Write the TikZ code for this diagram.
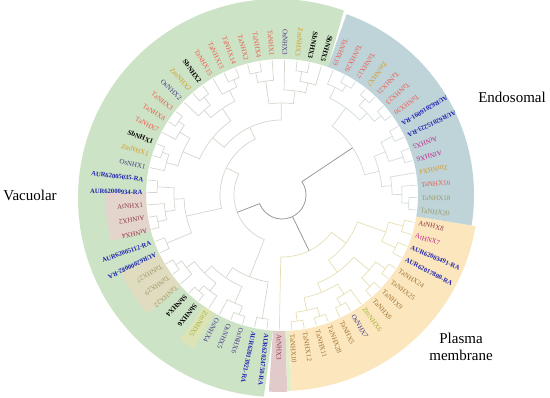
\documentclass[tikz,border=0pt]{standalone}
\usepackage{fontspec}
\setmainfont{Liberation Serif}
\definecolor{tared}{HTML}{EE5B4F}
\definecolor{tabrown}{HTML}{9E7437}
\definecolor{taolive}{HTML}{9C9A66}
\definecolor{osnavy}{HTML}{463C86}
\definecolor{zmgold}{HTML}{D39A2B}
\definecolor{zmlime}{HTML}{A5B330}
\definecolor{aurblue}{HTML}{1E22B0}
\definecolor{atred}{HTML}{8E3A48}
\definecolor{atmag}{HTML}{C2288E}
\definecolor{vacg}{HTML}{CDE3C5}
\definecolor{endb}{HTML}{BED4D9}
\definecolor{plaso}{HTML}{FCE6BD}
\definecolor{atpink}{HTML}{E3CACA}
\definecolor{strpink}{HTML}{E4D5CC}
\definecolor{strbeige}{HTML}{E0DCC0}
\definecolor{strlime}{HTML}{DCE3B6}
\definecolor{strlight}{HTML}{E2EDC9}
\definecolor{trg}{HTML}{D3D6CC}
\definecolor{tro}{HTML}{E6DFB4}
\definecolor{trb}{HTML}{D3DBDD}
\tikzset{
  lbl/.style={font=\fontsize{7}{8}\selectfont, inner sep=0.3pt},
  cTa/.style={text=tared}, cTab/.style={text=tabrown}, cTao/.style={text=taolive},
  cOs/.style={text=osnavy}, cZm/.style={text=zmgold}, cZmg/.style={text=zmlime},
  cSb/.style={text=black, font=\fontsize{7}{8}\selectfont\bfseries},
  cAur/.style={text=aurblue, font=\fontsize{6.6}{8}\selectfont\bfseries},
  cAt/.style={text=atred}, cAtm/.style={text=atmag},
  treeline/.style={draw=trg, line width=0.7pt},
  big/.style={font=\fontsize{15}{17}\selectfont, inner sep=0pt, align=center}
}
% sector: start angle, end angle, inner r, outer r, colour
\newcommand\sector[5]{\fill[#5] ([shift={(282,203)}]#1:#3) arc[start angle=#1,end angle=#2,radius=#3] -- ([shift={(282,203)}]#2:#4) arc[start angle=#2,end angle=#1,radius=#4] -- cycle;}
% tree node: radius, slot1, r1, slot2, r2
\newcommand\tn[5]{%
  \pgfmathsetmacro\tnA{73+5.294*#2}%
  \pgfmathsetmacro\tnB{73+5.294*#4}%
  \draw[treeline] ([shift={(282,203)}]\tnA:#3) -- ([shift={(282,203)}]\tnA:#1) arc[start angle=\tnA, end angle=\tnB, radius=#1] -- ([shift={(282,203)}]\tnB:#5);}
% label: slot, text, style, direction (0 outward, 1 inward)
\newcommand\lab[4]{%
  \pgfmathsetmacro\labA{73+5.294*#1}%
  \ifnum#4=0
    \node[lbl,#3,anchor=west,rotate=\labA] (L#1) at ([shift={(282,203)}]\labA:139) {#2};
  \else
    \pgfmathsetmacro\labB{\labA+180}%
    \node[lbl,#3,anchor=east,rotate=\labB] (L#1) at ([shift={(282,203)}]\labA:139) {#2};
  \fi}
\begin{document}
\begin{tikzpicture}[x=1pt,y=1pt]
\useasboundingbox (0,0) rectangle (550,398);
\clip (0,0) rectangle (550,398);
% sectors
\fill[vacg] ([shift={(282,203)}]70.35:136) arc[start angle=70.35,end angle=266.2,radius=136]
   -- ([shift={(277,200)}]266.2:199) arc[start angle=266.2,end angle=70.35,radius=199] -- cycle;
\sector{266.2}{271.5}{136}{197}{atpink}
\sector{271.5}{272.9}{136}{196}{strlight}
\sector{272.9}{350.9}{136}{196}{plaso}
\sector{350.9}{430.35}{136}{192}{endb}
\sector{179.2}{195.1}{136}{177}{strpink}
\sector{205.7}{221.6}{136}{179}{strbeige}
\sector{234.8}{240.1}{136}{177}{strlime}
% tree: green clade
\tn{125}{1}{135}{2}{135}
\tn{115}{0}{135}{1.5}{125}
\tn{105}{0.75}{115}{3}{135}
\tn{125}{5}{135}{6}{135}
\tn{115}{4}{135}{5.5}{125}
\tn{92}{1.875}{105}{4.75}{115}
\tn{125}{7}{135}{8}{135}
\tn{117}{7.5}{125}{9}{135}
\tn{125}{10}{135}{11}{135}
\tn{115}{10.5}{125}{12}{135}
\tn{105}{8.25}{117}{11.25}{115}
\tn{127}{13}{135}{14}{135}
\tn{120}{13.5}{127}{15}{135}
\tn{127}{16}{135}{17}{135}
\tn{120}{16.5}{127}{18}{135}
\tn{108}{14.25}{120}{17.25}{120}
\tn{90}{9.75}{105}{15.75}{108}
\tn{75}{3.3125}{92}{12.75}{90}
\tn{125}{19}{135}{20}{135}
\tn{127}{22}{135}{23}{135}
\tn{118}{21}{135}{22.5}{127}
\tn{108}{19.5}{125}{21.75}{118}
\tn{125}{24}{135}{25}{135}
\tn{98}{20.625}{108}{24.5}{125}
\tn{62}{8.03}{75}{22.56}{98}
\tn{127}{26}{135}{27}{135}
\tn{120}{26.5}{127}{28}{135}
\tn{127}{29}{135}{30}{135}
\tn{120}{29.5}{127}{31}{135}
\tn{110}{27.25}{120}{30.25}{120}
\tn{127}{33}{135}{34}{135}
\tn{118}{32}{135}{33.5}{127}
\tn{100}{28.75}{110}{32.75}{118}
\tn{125}{35}{135}{36}{135}
\tn{88}{30.75}{100}{35.5}{125}
\tn{48}{15.3}{62}{33.125}{88}
% orange clade
\begin{scope}[treeline/.style={draw=tro, line width=0.7pt}]
\tn{127}{38}{135}{39}{135}
\tn{127}{40}{135}{41}{135}
\tn{118}{38.5}{127}{40.5}{127}
\tn{125}{42}{135}{43}{135}
\tn{117}{42.5}{125}{44}{135}
\tn{105}{39.5}{118}{43.25}{117}
\tn{127}{45}{135}{46}{135}
\tn{127}{47}{135}{48}{135}
\tn{115}{45.5}{127}{47.5}{127}
\tn{95}{41.375}{105}{46.5}{115}
\tn{125}{49}{135}{50}{135}
\tn{125}{51}{135}{52}{135}
\tn{110}{49.5}{125}{51.5}{125}
\tn{80}{43.94}{95}{50.5}{110}
\tn{62}{37}{135}{47.22}{80}
\end{scope}
% blue clade
\begin{scope}[treeline/.style={draw=trb, line width=0.7pt}]
\tn{127}{53}{135}{54}{135}
\tn{120}{53.5}{127}{55}{135}
\tn{110}{54.25}{120}{56}{135}
\tn{127}{57}{135}{58}{135}
\tn{125}{59}{135}{60}{135}
\tn{112}{57.5}{127}{59.5}{125}
\tn{100}{55.125}{110}{58.5}{112}
\tn{127}{61}{135}{62}{135}
\tn{127}{63}{135}{64}{135}
\tn{118}{61.5}{127}{63.5}{127}
\tn{127}{65}{135}{66}{135}
\tn{120}{65.5}{127}{67}{135}
\tn{108}{62.5}{118}{66.25}{120}
\tn{85}{56.81}{100}{64.375}{108}
\end{scope}
% root
\begin{scope}[treeline/.style={draw=gray!80, line width=0.8pt}]
\tn{24}{24.21}{48}{60.59}{85}
\tn{24}{42.11}{62}{42.11}{24}
\end{scope}
% labels
\lab{0}{SbNHX5}{cSb}{1}
\lab{1}{SbNHX3}{cSb}{1}
\lab{2}{ZmNHX3}{cZm}{1}
\lab{3}{OsNHX3}{cOs}{1}
\lab{4}{TaNHX1}{cTa}{1}
\lab{5}{TaNHX4}{cTa}{1}
\lab{6}{TaNHX2}{cTa}{1}
\lab{7}{TaNHX14}{cTa}{1}
\lab{8}{TaNHX13}{cTa}{1}
\lab{9}{TaNHX15}{cTa}{1}
\lab{10}{SbNHX2}{cSb}{1}
\lab{11}{ZmNHX2}{cZm}{1}
\lab{12}{OsNHX2}{cOs}{1}
\lab{13}{TaNHX3}{cTa}{1}
\lab{14}{TaNHX8}{cTa}{1}
\lab{15}{TaNHX7}{cTa}{1}
\lab{16}{SbNHX1}{cSb}{1}
\lab{17}{ZmNHX1}{cZm}{1}
\lab{18}{OsNHX1}{cOs}{1}
\lab{19}{AUR62005035-RA}{cAur}{1}
\lab{20}{AUR62000934-RA}{cAur}{1}
\lab{21}{AtNHX1}{cAt}{1}
\lab{22}{AtNHX2}{cAt}{0}
\lab{23}{AtNHX4}{cAt}{0}
\lab{24}{AUR62005112-RA}{cAur}{1}
\lab{25}{AUR62000082-RA}{cAur}{0}
\lab{26}{TaNHX27}{cTao}{0}
\lab{27}{TaNHX29}{cTao}{0}
\lab{28}{TaNHX22}{cTao}{0}
\lab{29}{SbNHX4}{cSb}{0}
\lab{30}{SbNHX6}{cSb}{0}
\lab{31}{ZmNHX5}{cZmg}{0}
\lab{32}{OsNHX4}{cOs}{0}
\lab{33}{OsNHX5}{cOs}{0}
\lab{34}{OsNHX6}{cOs}{0}
\lab{35}{AUR62013921-RA}{cAur}{0}
\lab{36}{AUR62024750-RA}{cAur}{0}
\lab{37}{AtNHX3}{cAt}{0}
\lab{38}{TaNHX10}{cTab}{0}
\lab{39}{TaNHX12}{cTab}{0}
\lab{40}{TaNHX11}{cTab}{0}
\lab{41}{TaNHX28}{cTab}{0}
\lab{42}{TaNHX5}{cTab}{0}
\lab{43}{OsNHX7}{cOs}{0}
\lab{44}{ZmNHX6}{cZmg}{0}
\lab{45}{TaNHX6}{cTab}{0}
\lab{46}{TaNHX9}{cTab}{0}
\lab{47}{TaNHX25}{cTab}{0}
\lab{48}{TaNHX24}{cTab}{0}
\lab{49}{AUR62017800-RA}{cAur}{0}
\lab{50}{AUR62003491-RA}{cAur}{0}
\lab{51}{AtHNX7}{cAtm}{0}
\lab{52}{AtNHX8}{cAt}{0}
\lab{53}{TaNHX20}{cTao}{0}
\lab{54}{TaNHX18}{cTao}{0}
\lab{55}{TaNHX16}{cTa}{0}
\lab{56}{ZmNHX4}{cZm}{1}
\lab{57}{AtNHX6}{cAtm}{1}
\lab{58}{AtNHX5}{cAtm}{1}
\lab{59}{AUR62015223-RA}{cAur}{1}
\lab{60}{AUR62016091-RA}{cAur}{1}
\lab{61}{TaNHX30}{cTa}{1}
\lab{62}{TaNHX23}{cTa}{1}
\lab{63}{TaNHX21}{cTa}{1}
\lab{64}{ZmNHX7}{cZm}{1}
\lab{65}{TaNHX17}{cTa}{1}
\lab{66}{TaNHX26}{cTa}{1}
\lab{67}{TaNHX19}{cTa}{1}
% group titles
\node[big] (vac) at (30,203) {Vacuolar};
\node[big] (endo) at (512,301) {Endosomal};
\node[big] (plasma) at (461,51) {Plasma\\membrane};
\end{tikzpicture}
\end{document}
